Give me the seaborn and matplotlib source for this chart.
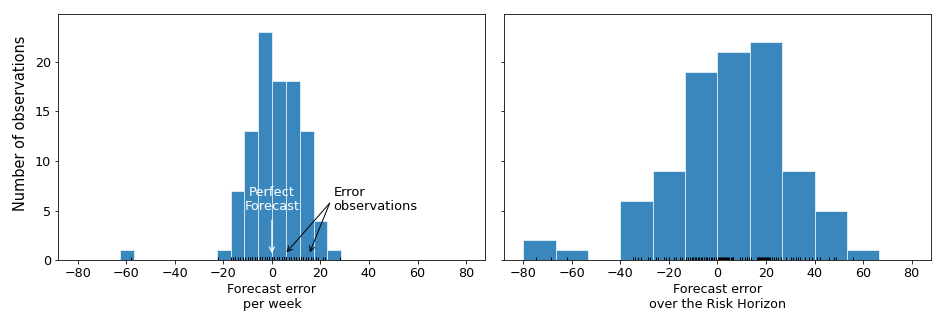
import numpy as np
import pandas as pd
import matplotlib
matplotlib.use("Agg")
import matplotlib.pyplot as plt
import seaborn as sns

# ---- data ----
weekly_errors = [
    -58,
    -22,
    -17, -16, -15, -15, -14, -13, -12,
    -11, -10, -10, -9, -9, -8, -8, -8, -7, -7, -6, -6, -6,
    -5, -5, -5, -4, -4, -4, -4, -3, -3, -3, -3, -2, -2, -2, -2, -1, -1, -1, -1, 0, 0, 0, 0,
    1, 1, 1, 1, 2, 2, 2, 2, 3, 3, 3, 3, 4, 4, 4, 5, 5, 5,
    6, 6, 6, 6, 7, 7, 7, 7, 8, 8, 8, 9, 9, 9, 10, 10, 11, 11,
    12, 12, 12, 13, 13, 13, 14, 14, 15, 15, 16, 16, 17,
    18, 19, 21, 22,
    28,
]
weekly_bin_range = (-62.7, 28.6)
weekly_bin_count = 16

horizon_errors = [
    -74.9, -68.6,
    -62.1,
    -34.7, -34.0, -32.9, -31.5, -28.8, -27.8,
    -25.5, -24.4, -22.1, -21.0, -20.0, -18.0, -17.0, -15.5, -14.8,
    -12.8, -12.1, -11.5, -10.6, -10.0, -9.2, -8.7, -8.1, -7.4, -6.9, -6.2, -5.5, -4.9, -4.3,
    -3.4, -2.8, -2.1, -1.3, -0.6,
    0.2, 0.5, 0.9, 1.2, 1.6, 2.0, 2.3, 2.7, 3.0, 3.4, 3.9, 4.3, 4.8, 5.4, 5.9, 6.4,
    9.2, 10.2, 11.3, 12.1, 12.9,
    13.8, 16.2, 16.6, 17.0, 17.3, 17.7, 18.0, 18.4, 18.7, 19.1, 19.4, 19.8, 20.2, 20.6,
    21.0, 21.4, 21.8, 22.3, 23.2, 24.2, 25.1, 26.0,
    28.4, 30.5, 31.2, 32.4, 33.3, 34.0, 36.1, 37.7, 39.0,
    41.0, 42.1, 45.8, 47.9, 48.8,
    55.9,
]
horizon_bin_range = (-80, 80)
horizon_bin_count = 12

x_labels = ["Forecast error\nper week", "Forecast error\nover the Risk Horizon"]
y_label = "Number of observations"

plt.rcParams["font.size"] = 12.8

fig, axes = plt.subplots(1, 2, figsize=(945 / 72, 331 / 72), dpi=72, sharey=True)
fig.subplots_adjust(left=0.0617, right=0.9852, bottom=0.2136, top=0.9577, wspace=0.043)

bar_color = "#1f77b4"

for ax, data, brange, bcount, xl in [
    (axes[0], weekly_errors, weekly_bin_range, weekly_bin_count, x_labels[0]),
    (axes[1], horizon_errors, horizon_bin_range, horizon_bin_count, x_labels[1]),
]:
    edges = np.linspace(brange[0], brange[1], bcount + 1)
    sns.histplot(x=data, bins=edges, color=bar_color, alpha=0.88,
                 edgecolor="white", linewidth=0.6, ax=ax)
    sns.rugplot(x=data, height=0.014, color="black", lw=1, ax=ax)
    ax.set_xlim(-88, 88)
    ax.set_xticks(np.arange(-80, 81, 20))
    ax.set_xlabel(xl, labelpad=3)

axes[0].set_ylabel(y_label, fontsize=14.5)
axes[0].yaxis.set_label_coords(-0.071, 0.555)
axes[1].set_ylabel("")
axes[0].set_yticks([0, 5, 10, 15, 20])

# annotations on the weekly panel
ax = axes[0]
ax.text(0, 6.1, "Perfect\nForecast", color="white", ha="center", va="center",
        fontsize=13, linespacing=1.1)
ax.annotate("", xy=(0, 0.7), xytext=(0, 4.05),
            arrowprops=dict(arrowstyle="->", color="white", lw=1.2, shrinkA=0, shrinkB=0))
ax.text(25.3, 6.1, "Error\nobservations", color="black", ha="left", va="center",
        fontsize=13, linespacing=1.1)
for tx in (6.0, 15.6):
    ax.annotate("", xy=(tx, 0.8), xytext=(23.8, 5.75),
                arrowprops=dict(arrowstyle="->", color="black", lw=1.0, shrinkA=0, shrinkB=0))

fig.savefig("out.png", dpi=72)
